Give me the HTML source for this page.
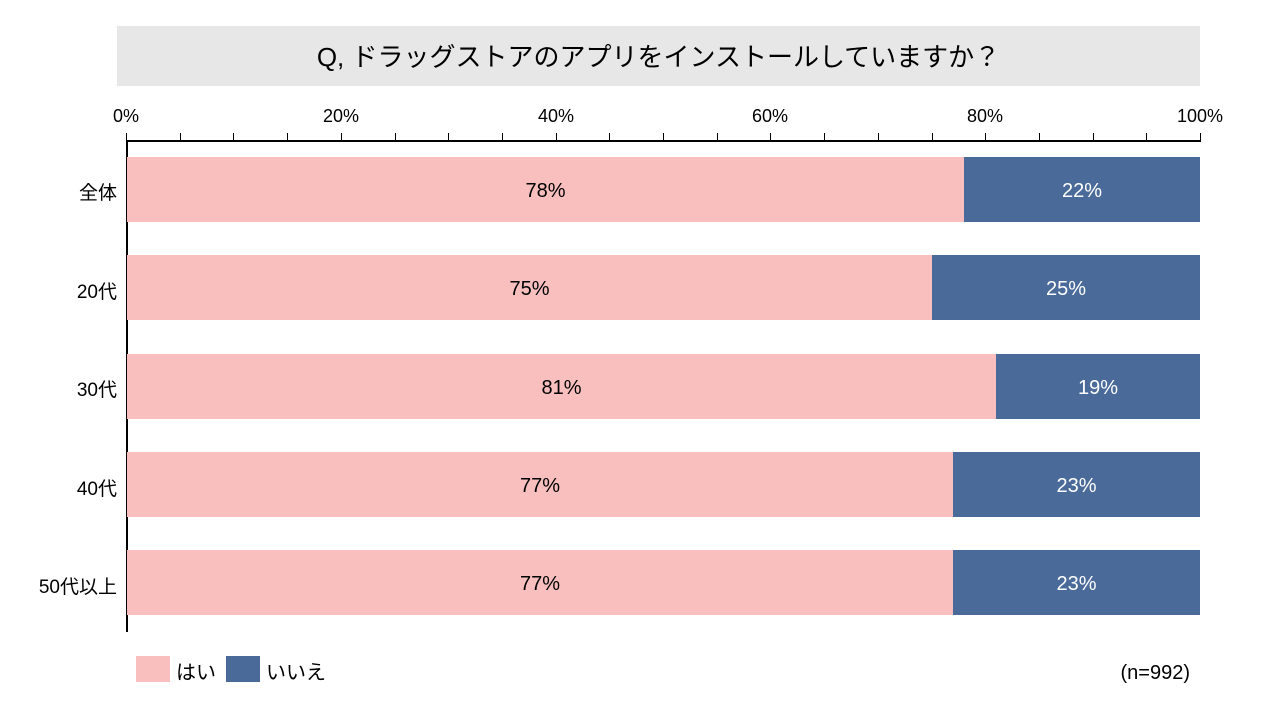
<!DOCTYPE html>
<html><head><meta charset="utf-8"><style>
body{margin:0;width:1280px;height:720px;background:#fff;position:relative;overflow:hidden;font-family:"Liberation Sans","Noto Sans CJK JP",sans-serif;color:#000}
.a{position:absolute}
.title{left:117px;top:26px;width:1083px;height:60px;background:#e7e7e7;font-size:26px;line-height:62px;text-align:center}
.tl{top:106px;font-size:18px;width:80px;margin-left:-40px;text-align:center}
.tick{top:133px;width:1px;height:7px;background:#000}
.cat{font-size:19px;right:1163px;text-align:right}
.bar{height:65px}
.p{background:#f9bfbf}
.b{background:#4a6a99}
.lab{font-size:20px;line-height:68px;text-align:center}
</style></head><body>
<div class="a title">Q, ドラッグストアのアプリをインストールしていますか？</div>
<div class="a tl" style="left:126px">0%</div>
<div class="a tl" style="left:341px">20%</div>
<div class="a tl" style="left:556px">40%</div>
<div class="a tl" style="left:770px">60%</div>
<div class="a tl" style="left:985px">80%</div>
<div class="a tl" style="left:1200px">100%</div>
<div class="a" style="left:126px;top:140px;width:1075px;height:1.5px;background:#000"></div>
<div class="a" style="left:126px;top:140px;width:1.5px;height:492px;background:#000"></div>
<div id="ticks"></div>
<script>
var h='';for(var i=0;i<=20;i++){h+='<div class="a tick" style="left:'+(126+i*53.7)+'px"></div>';}
document.getElementById('ticks').innerHTML=h;
</script>
<div class="a bar p lab" style="left:127px;top:157px;width:837px">78%</div>
<div class="a bar b lab" style="left:964px;top:157px;width:236px;color:#fff">22%</div>
<div class="a bar p lab" style="left:127px;top:255px;width:805px">75%</div>
<div class="a bar b lab" style="left:932px;top:255px;width:268px;color:#fff">25%</div>
<div class="a bar p lab" style="left:127px;top:354px;width:869px">81%</div>
<div class="a bar b lab" style="left:996px;top:354px;width:204px;color:#fff">19%</div>
<div class="a bar p lab" style="left:127px;top:452px;width:826px">77%</div>
<div class="a bar b lab" style="left:953px;top:452px;width:247px;color:#fff">23%</div>
<div class="a bar p lab" style="left:127px;top:550px;width:826px">77%</div>
<div class="a bar b lab" style="left:953px;top:550px;width:247px;color:#fff">23%</div>
<div class="a cat" style="top:178px">全体</div>
<div class="a cat" style="top:277px">20代</div>
<div class="a cat" style="top:375px">30代</div>
<div class="a cat" style="top:474px">40代</div>
<div class="a cat" style="top:572px">50代以上</div>
<div class="a p" style="left:136px;top:656px;width:34px;height:26px"></div>
<div class="a" style="left:176px;top:656px;font-size:20px">はい</div>
<div class="a b" style="left:226px;top:656px;width:34px;height:26px"></div>
<div class="a" style="left:266px;top:656px;font-size:20px">いいえ</div>
<div class="a" style="right:90px;top:662px;font-size:20px">(n=992)</div>
</body></html>
